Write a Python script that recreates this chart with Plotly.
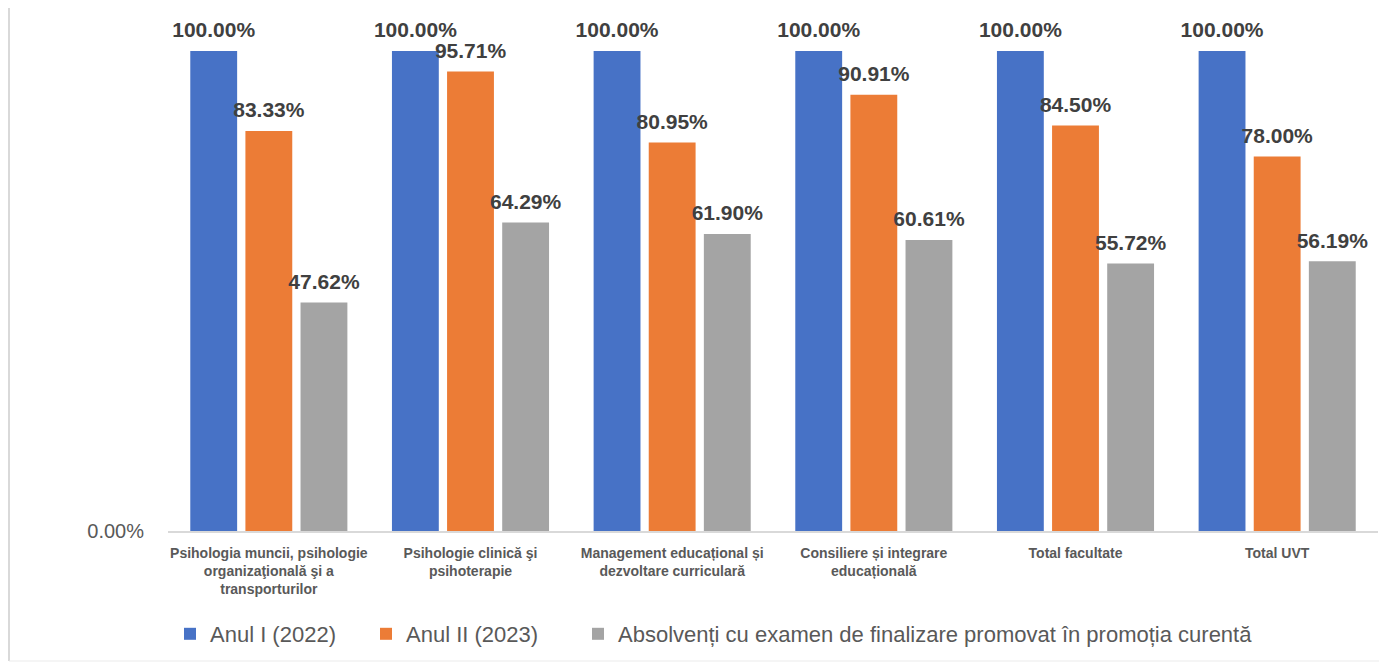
import plotly.graph_objects as go

categories = [
    "Psihologia muncii, psihologie<br>organizaţională şi a<br>transporturilor",
    "Psihologie clinică şi<br>psihoterapie",
    "Management educațional și<br>dezvoltare curriculară",
    "Consiliere și integrare<br>educațională",
    "Total facultate",
    "Total UVT",
]
series_names = [
    "Anul I (2022)",
    "Anul II (2023)",
    "Absolvenți cu examen de finalizare promovat în promoția curentă",
]
anul1 = [100.00, 100.00, 100.00, 100.00, 100.00, 100.00]
anul2 = [83.33, 95.71, 80.95, 90.91, 84.50, 78.00]
absolventi = [47.62, 64.29, 61.90, 60.61, 55.72, 56.19]

values = [anul1, anul2, absolventi]
colors = ["#4772C6", "#EC7C36", "#A4A4A4"]

W, H = 1379, 654
L, R, T, B = 160, 9, 43, 131
PW, PH = W - L - R, H - T - B

legend_ids = ["legend", "legend2", "legend3"]
legend_x_px = [2, 198, 410]

fig = go.Figure()
for i, (name, vals, col) in enumerate(zip(series_names, values, colors)):
    fig.add_trace(go.Bar(
        x=categories, y=vals, name=name,
        marker=dict(color=col, line=dict(width=0)),
        offsetgroup=str(i), legend=legend_ids[i],
        hovertemplate="%{y:.2f}%<extra>" + name + "</extra>",
    ))
for i, vals in enumerate(values):
    fig.add_trace(go.Scatter(
        x=categories, y=vals, mode="markers+text",
        text=[f"{v:.2f}%" for v in vals],
        textposition="top center",
        textfont=dict(family="Liberation Sans", size=21, color="#404040", weight="bold"),
        marker=dict(size=12, opacity=0),
        offsetgroup=str(i),
        showlegend=False, hoverinfo="skip", cliponaxis=False,
    ))

legend_common = dict(
    orientation="h", xanchor="left", y=-103 / PH, yanchor="middle",
    font=dict(size=22, color="#595959"), itemwidth=30,
    bgcolor="rgba(0,0,0,0)",
)

fig.update_layout(
    width=W, height=H,
    barmode="group", scattermode="group",
    bargap=0.18, bargroupgap=0.15, scattergap=0.18,
    plot_bgcolor="white", paper_bgcolor="white",
    margin=dict(l=L, r=R, t=T, b=B, autoexpand=False),
    font=dict(family="Liberation Sans", color="#595959"),
    xaxis=dict(
        showline=True, linecolor="#D9D9D9", linewidth=2,
        tickfont=dict(size=14, color="#595959", weight="bold"),
        ticks="", showgrid=False, ticklabelstandoff=8, automargin=False,
    ),
    yaxis=dict(
        range=[0, 100], tickvals=[0], ticktext=["0.00%"],
        showgrid=False, zeroline=False, showline=False,
        tickfont=dict(size=20, color="#595959"),
        ticks="outside", ticklen=19, tickcolor="rgba(0,0,0,0)", automargin=False,
    ),
    legend=dict(x=legend_x_px[0] / PW, **legend_common),
    legend2=dict(x=legend_x_px[1] / PW, **legend_common),
    legend3=dict(x=legend_x_px[2] / PW, **legend_common),
    shapes=[
        dict(type="line", xref="paper", yref="paper", x0=-(L - 1) / PW, x1=-(L - 1) / PW,
             y0=1 + T / PH, y1=-(B - 1) / PH, line=dict(color="#D9D9D9", width=2)),
        dict(type="line", xref="paper", yref="paper", x0=-(L - 1) / PW, x1=1 + R / PW,
             y0=-(B - 1) / PH, y1=-(B - 1) / PH, line=dict(color="#EBEBEB", width=1)),
    ],
    showlegend=True,
)

fig.write_html("out.html")
